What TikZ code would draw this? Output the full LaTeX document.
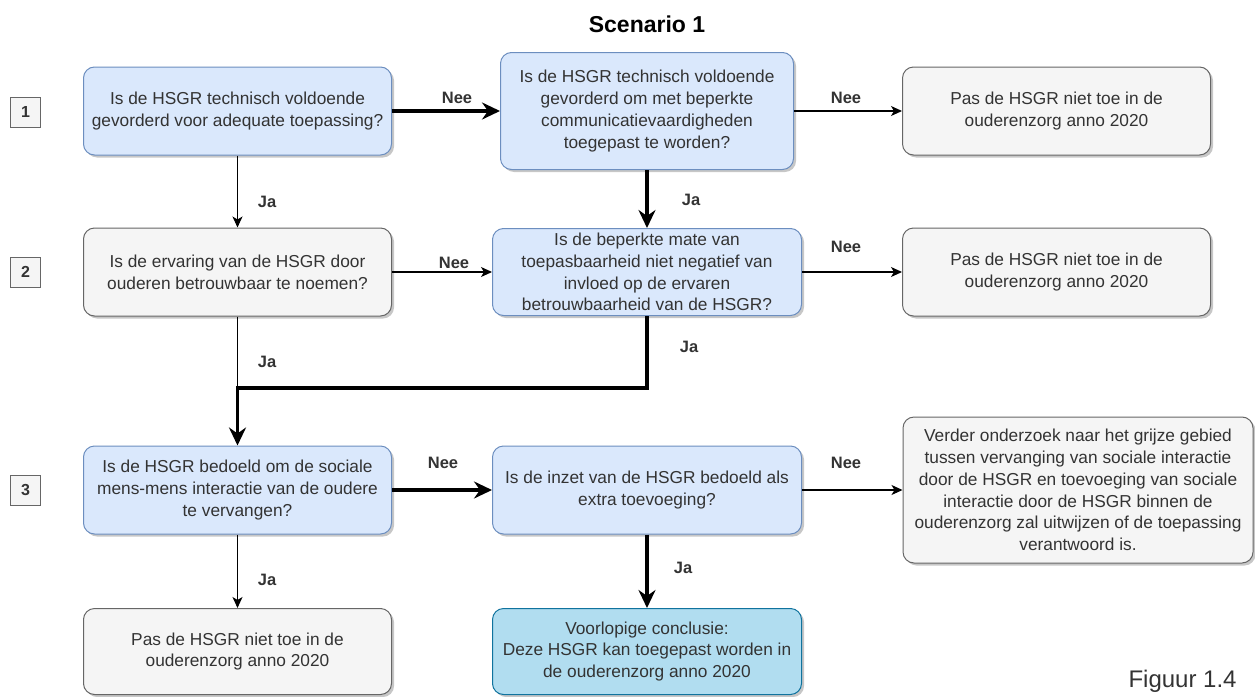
\documentclass[tikz,border=0pt]{standalone}
\usepackage{fontspec}
\setmainfont{Liberation Sans}
\usepackage{tikz}
\usepackage{xcolor}
\usetikzlibrary{arrows.meta,shadows}
\definecolor{hsgblue}{HTML}{DAE8FC}
\definecolor{hsgblueline}{HTML}{6C8EBF}
\definecolor{hsggrey}{HTML}{F5F5F5}
\definecolor{hsggreyline}{HTML}{666666}
\definecolor{hsgconc}{HTML}{B1DDF0}
\definecolor{hsgconcline}{HTML}{10739E}
\definecolor{hsgtext}{HTML}{333333}

\begin{document}
\begin{tikzpicture}[x=1pt,y=-1pt,>=Stealth,
  box/.style={rounded corners=11pt,line width=1pt,align=center,inner sep=0pt,
    minimum width=308pt,minimum height=88pt,text=hsgtext,
    font=\fontsize{17.3}{21.7}\selectfont,
    drop shadow={shadow xshift=2.5pt,shadow yshift=-2.5pt,fill=black,opacity=0.22}},
  bluebox/.style={box,fill=hsgblue,draw=hsgblueline},
  greybox/.style={box,fill=hsggrey,draw=hsggreyline},
  concbox/.style={box,fill=hsgconc,draw=hsgconcline},
  numbox/.style={draw=hsggreyline,fill=hsggrey,line width=0.8pt,minimum size=30pt,inner sep=0pt,
    text=hsgtext,font=\fontsize{16}{16}\bfseries},
  lbl/.style={anchor=base,text=hsgtext,font=\fontsize{16.5}{16.5}\bfseries},
  thinarrow/.style={line width=1.1pt,-{Stealth[length=11pt,width=10pt,inset=3pt]}},
  thickarrow/.style={line width=3.8pt,-{Stealth[length=18pt,width=17pt,inset=6pt]}}]
  \useasboundingbox (0,0) rectangle (1255,696);

  \node[anchor=base,font=\fontsize{23}{23}\bfseries] (title) at (647,32) {Scenario 1};

  % row 1
  \node[numbox] (n1) at (25.5,112) {1};
  \node[bluebox] (qtech) at (237.5,111) {Is de HSGR technisch voldoende\\gevorderd voor adequate toepassing?};
  \node[bluebox,minimum width=293pt,minimum height=117pt] (qcomm) at (647,111)
    {Is de HSGR technisch voldoende\\gevorderd om met beperkte\\communicatievaardigheden\\toegepast te worden?};
  \node[greybox] (stop1) at (1056.5,111) {Pas de HSGR niet toe in de\\ouderenzorg anno 2020};

  % row 2
  \node[numbox] (n2) at (25.5,272) {2};
  \node[greybox] (qtrust) at (237.5,272) {Is de ervaring van de HSGR door\\ouderen betrouwbaar te noemen?};
  \node[bluebox,minimum width=309pt,minimum height=87pt] (qlimit) at (647,272)
    {Is de beperkte mate van\\toepasbaarheid niet negatief van\\invloed op de ervaren\\betrouwbaarheid van de HSGR?};
  \node[greybox] (stop2) at (1056.5,272) {Pas de HSGR niet toe in de\\ouderenzorg anno 2020};

  % row 3
  \node[numbox] (n3) at (25.5,490) {3};
  \node[bluebox] (qsocial) at (237.5,490) {Is de HSGR bedoeld om de sociale\\mens-mens interactie van de oudere\\te vervangen?};
  \node[bluebox,minimum width=309pt] (qextra) at (647,490) {Is de inzet van de HSGR bedoeld als\\extra toevoeging?};
  \node[greybox,minimum width=350pt,minimum height=146pt] (further) at (1078,490)
    {Verder onderzoek naar het grijze gebied\\tussen vervanging van sociale interactie\\door de HSGR en toevoeging van sociale\\interactie door de HSGR binnen de\\ouderenzorg zal uitwijzen of de toepassing\\verantwoord is.};

  % row 4
  \node[greybox,minimum height=86pt] (stop3) at (237.5,651.5) {Pas de HSGR niet toe in de\\ouderenzorg anno 2020};
  \node[concbox,minimum width=309pt,minimum height=86pt] (concl) at (647,651.5)
    {Voorlopige conclusie:\\Deze HSGR kan toegepast worden in\\de ouderenzorg anno 2020};

  \node[anchor=base west,text=hsgtext,font=\fontsize{24}{24}\selectfont] (fig) at (1125,687) {Figuur 1.4};

  % connectors
  \coordinate (join) at (237.5,388);
  \draw[thickarrow] (qtech) -- (qcomm);
  \draw[thinarrow] (qcomm) -- (stop1);
  \draw[thinarrow] (qtech) -- (qtrust);
  \draw[thickarrow] (qcomm) -- (qlimit);
  \draw[thinarrow] (qtrust) -- (qlimit);
  \draw[thinarrow] (qlimit) -- (stop2);
  \draw[line width=1.1pt] (qtrust) -- (join);
  \draw[thickarrow] (qlimit) |- (join) -- (qsocial);
  \draw[thickarrow] (qsocial) -- (qextra);
  \draw[thinarrow] (qextra) -- (further);
  \draw[thinarrow] (qsocial) -- (stop3);
  \draw[thickarrow] (qextra) -- (concl);

  % labels
  \node[lbl] at (457,103) {Nee};
  \node[lbl] at (846,103) {Nee};
  \node[lbl] at (267,207) {Ja};
  \node[lbl] at (691,205) {Ja};
  \node[lbl] at (454,268) {Nee};
  \node[lbl] at (846,252) {Nee};
  \node[lbl] at (267,367) {Ja};
  \node[lbl] at (689,352) {Ja};
  \node[lbl] at (443,468) {Nee};
  \node[lbl] at (846,468) {Nee};
  \node[lbl] at (267,585) {Ja};
  \node[lbl] at (683,573) {Ja};
\end{tikzpicture}
\end{document}
